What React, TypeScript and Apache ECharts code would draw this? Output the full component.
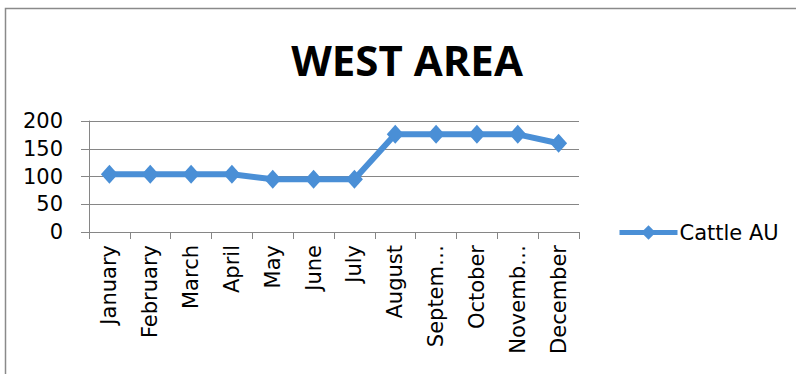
import React, { useEffect, useRef } from "react";
import * as echarts from "echarts";

const months = [
  "January", "February", "March", "April", "May", "June",
  "July", "August", "September", "October", "November", "December",
];
// Axis text as it is printed under each month
const monthTickLabels = [
  "January", "February", "March", "April", "May", "June",
  "July", "August", "Septem…", "October", "Novemb…", "December",
];
const cattleAU = [104, 104, 104, 104, 95, 95, 95, 176, 176, 176, 176, 160];
const seriesName = "Cattle AU";
const chartTitle = "WEST AREA";

const TITLE_FONT = "'Open Sans', 'Noto Sans', sans-serif";
const LABEL_FONT = "'DejaVu Sans', 'Open Sans', sans-serif";
const BLUE = "#4a8fd6";

export default function App() {
  const ref = useRef<HTMLDivElement>(null);

  useEffect(() => {
    if (!ref.current) return;
    const chart = echarts.init(ref.current, undefined, { renderer: "svg" });
    chart.setOption({
      animation: false,
      backgroundColor: "#ffffff",
      textStyle: { fontFamily: LABEL_FONT },
      graphic: [
        {
          type: "rect",
          shape: { x: 5.5, y: 8.5, width: 820, height: 400 },
          style: { fill: "none", stroke: "#8a8a8a", lineWidth: 1.5 },
          silent: true,
        },
        {
          type: "text",
          x: 407,
          y: 59,
          style: {
            text: chartTitle,
            font: `bold 42px ${TITLE_FONT}`,
            fill: "#000",
            textAlign: "center",
            textVerticalAlign: "middle",
          },
        },
      ],
      legend: {
        left: 617,
        top: 222,
        padding: 0,
        itemWidth: 58,
        itemHeight: 18,
        itemGap: 4,
        lineStyle: { width: 5 },
        textStyle: { fontSize: 21, color: "#000", fontFamily: LABEL_FONT, padding: [0, 0, 0, -3] },
        data: [seriesName],
      },
      grid: { left: 89, right: 217, top: 121, bottom: 142, containLabel: false },
      xAxis: {
        type: "category",
        data: months,
        boundaryGap: true,
        axisLine: { lineStyle: { color: "#868686", width: 1 } },
        axisTick: { show: true, length: 7, lineStyle: { color: "#868686" } },
        axisLabel: {
          rotate: 90,
          margin: 13,
          fontSize: 21,
          color: "#000",
          fontFamily: LABEL_FONT,
          formatter: (_v: string, i: number) => monthTickLabels[i],
        },
      },
      yAxis: {
        type: "value",
        min: 0,
        max: 200,
        interval: 50,
        axisLine: { show: true, lineStyle: { color: "#868686" } },
        axisTick: { show: true, length: 8, lineStyle: { color: "#868686" } },
        splitLine: { lineStyle: { color: "#868686", width: 1 } },
        axisLabel: { fontSize: 21, color: "#000", margin: 26, fontFamily: LABEL_FONT },
      },
      series: [
        {
          name: seriesName,
          type: "line",
          data: cattleAU,
          symbol: "diamond",
          symbolSize: [17, 19],
          itemStyle: { color: BLUE },
          lineStyle: { color: BLUE, width: 6 },
        },
      ],
    });
    return () => chart.dispose();
  }, []);

  return (
    <div
      ref={ref}
      style={{ position: "fixed", left: 0, top: 0, width: 796, height: 374 }}
    />
  );
}
